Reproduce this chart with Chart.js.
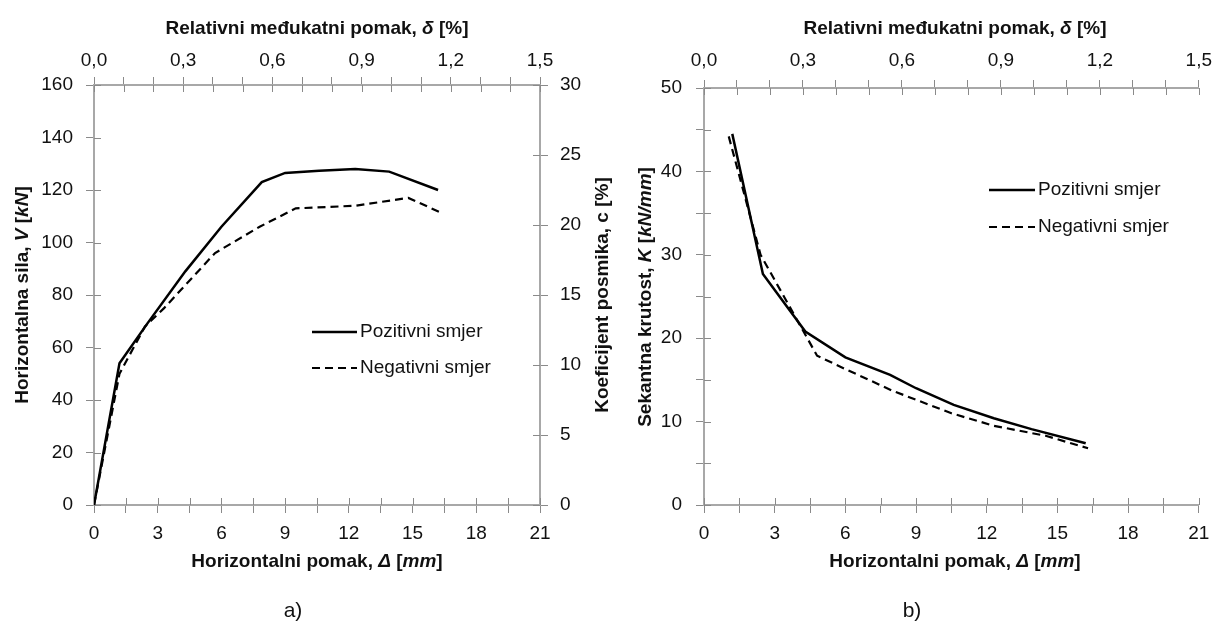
<!DOCTYPE html>
<html>
<head>
<meta charset="utf-8">
<script src="https://cdn.jsdelivr.net/npm/chart.js@4.4.1/dist/chart.umd.min.js"></script>
<style>
  body { margin: 0; background: #fff; }
  #wrap { position: relative; width: 1220px; height: 623px; }
  canvas { position: absolute; top: 0; }
  #grafA { left: 0; }
  #grafB { left: 625px; }
</style>
</head>
<body>
<div id="wrap">
  <canvas id="grafA" width="625" height="623"></canvas>
  <canvas id="grafB" width="595" height="623"></canvas>
</div>
<script>
// a) horizontalna sila - pomak
const pomakPoz = [0, 1.2, 2.5, 4.3, 6.0, 7.9, 9.0, 10.6, 12.3, 13.9, 16.2];
const silaPoz  = [0, 54, 69, 89, 106, 123, 126.5, 127.3, 128, 127, 120];
const pomakNeg = [0, 1.2, 2.4, 3.3, 5.7, 7.8, 9.5, 12.3, 14.8, 16.3];
const silaNeg  = [0, 50, 68, 75, 96, 106, 113, 114, 117, 111.5];

// b) sekantna krutost - pomak
const krutPomakPoz = [1.2, 2.5, 4.3, 6.0, 7.9, 9.0, 10.6, 12.3, 13.9, 16.2];
const krutPoz      = [44.5, 27.7, 20.8, 17.7, 15.6, 14.0, 12.0, 10.4, 9.1, 7.4];
const krutPomakNeg = [1.05, 2.4, 4.8, 6.0, 8.0, 10.5, 12.3, 14.5, 16.3];
const krutNeg      = [44.2, 30.0, 17.9, 16.3, 13.7, 11.0, 9.5, 8.3, 6.8];

const serije = ['Pozitivni smjer', 'Negativni smjer'];

// osi
const pomakMax = 21, pomakKorak = 1.5;
const driftMax = 1.5, driftKorak = 0.1;
const silaMax = 160, silaKorak = 20;
const koefMax = 30, koefKorak = 5;
const krutMax = 50, krutKorak = 5;

const FONT = "'Liberation Sans', Arial, sans-serif";
const VEL = 19;
const TXT = '#111';
const LINIJA = '#a8a8a8';
const CRTICA = '#8a8a8a';

const tocke = (xs, ys) => xs.map((x, i) => ({ x: x, y: ys[i] }));
const zarez = (v, d) => v.toFixed(d).replace('.', ',');

// unutarnji dio crtica na osima (crtice prelaze preko osi)
const unutarnjeCrtice = {
  id: 'unutarnjeCrtice',
  beforeDatasetsDraw(chart) {
    const ctx = chart.ctx;
    ctx.save();
    ctx.strokeStyle = CRTICA;
    ctx.lineWidth = 1;
    Object.values(chart.scales).forEach((s) => {
      const len = 7;
      s.ticks.forEach((t, i) => {
        const p = Math.round(s.getPixelForTick(i)) + 0.5;
        ctx.beginPath();
        if (s.position === 'left') { ctx.moveTo(s.right, p); ctx.lineTo(s.right + len, p); }
        else if (s.position === 'right') { ctx.moveTo(s.left, p); ctx.lineTo(s.left - len, p); }
        else if (s.position === 'top') { ctx.moveTo(p, s.bottom); ctx.lineTo(p, s.bottom + len); }
        else { ctx.moveTo(p, s.top); ctx.lineTo(p, s.top - len); }
        ctx.stroke();
      });
    });
    ctx.restore();
  }
};

// naslovi osi s miješanim kurzivom
function crtajDijelove(ctx, dijelovi, x, y, rot) {
  const fontZa = (st) => (st.includes('i') ? 'italic ' : '') + (st.includes('b') ? 'bold ' : '') + VEL + 'px ' + FONT;
  let ukupno = 0;
  dijelovi.forEach(([t, st]) => { ctx.font = fontZa(st); ukupno += ctx.measureText(t).width; });
  ctx.save();
  ctx.translate(x, y);
  if (rot) ctx.rotate(-Math.PI / 2);
  ctx.textBaseline = 'middle';
  ctx.textAlign = 'left';
  ctx.fillStyle = TXT;
  let pos = -ukupno / 2;
  dijelovi.forEach(([t, st]) => {
    ctx.font = fontZa(st);
    ctx.fillText(t, pos, 0);
    pos += ctx.measureText(t).width;
  });
  ctx.restore();
}

const nasloviOsi = {
  id: 'nasloviOsi',
  afterDraw(chart, args, opts) {
    const ctx = chart.ctx;
    (opts.stavke || []).forEach((n) => crtajDijelove(ctx, n.dijelovi, n.x, n.y, n.rot));
    if (opts.oznaka) {
      ctx.save();
      ctx.font = '21px ' + FONT;
      ctx.fillStyle = TXT;
      ctx.textAlign = 'center';
      ctx.textBaseline = 'middle';
      ctx.fillText(opts.oznaka.t, opts.oznaka.x, opts.oznaka.y);
      ctx.restore();
    }
  }
};

// legenda unutar grafa
const legendaUnutra = {
  id: 'legendaUnutra',
  afterDraw(chart, args, opts) {
    const ctx = chart.ctx;
    ctx.save();
    chart.data.datasets.forEach((ds, i) => {
      const y = opts.y + i * opts.razmak;
      ctx.strokeStyle = ds.borderColor;
      ctx.lineWidth = ds.borderWidth;
      ctx.setLineDash(ds.borderDash || []);
      ctx.beginPath();
      ctx.moveTo(opts.x, y);
      ctx.lineTo(opts.x + opts.duljina, y);
      ctx.stroke();
      ctx.setLineDash([]);
      ctx.font = VEL + 'px ' + FONT;
      ctx.fillStyle = TXT;
      ctx.textBaseline = 'middle';
      ctx.fillText(ds.label, opts.x + opts.duljina + 3, y);
    });
    ctx.restore();
  }
};

function os(pozicija, min, max, korak, oznaka, padding, fit) {
  return {
    type: 'linear',
    position: pozicija,
    min: min,
    max: max,
    ticks: {
      stepSize: korak,
      autoSkip: false,
      maxRotation: 0,
      padding: padding,
      color: TXT,
      font: { family: FONT, size: VEL },
      callback: oznaka
    },
    grid: { drawOnChartArea: false, drawTicks: true, tickLength: 8, color: CRTICA, lineWidth: 1 },
    border: { display: true, color: LINIJA, width: 2 },
    afterFit: fit
  };
}

const oznakaPomak = (v) => (Math.round(v / pomakKorak) % 2 === 0 ? String(Math.round(v)) : '');
const oznakaDrift = (v) => (Math.round(v * 10) % 3 === 0 ? zarez(v, 1) : '');

const naslovGore = [['Relativni međukatni pomak, ', 'b'], ['δ', 'bi'], [' [%]', 'b']];
const naslovDolje = [['Horizontalni pomak, ', 'b'], ['Δ', 'bi'], [' [', 'b'], ['mm', 'bi'], [']', 'b']];

function skupovi(xp, yp, xn, yn) {
  return [
    { label: serije[0], data: tocke(xp, yp), borderColor: '#000', borderWidth: 2.5, pointRadius: 0, tension: 0, fill: false },
    { label: serije[1], data: tocke(xn, yn), borderColor: '#000', borderWidth: 2.2, borderDash: [8, 5], pointRadius: 0, tension: 0, fill: false }
  ];
}

new Chart(document.getElementById('grafA'), {
  type: 'line',
  data: { datasets: skupovi(pomakPoz, silaPoz, pomakNeg, silaNeg) },
  options: {
    responsive: false,
    animation: false,
    devicePixelRatio: 1,
    layout: { padding: 0 },
    plugins: {
      legend: { display: false },
      tooltip: { enabled: false },
      legendaUnutra: { x: 312, y: 332, razmak: 36, duljina: 45 },
      nasloviOsi: {
        stavke: [
          { dijelovi: naslovGore, x: 317, y: 29 },
          { dijelovi: naslovDolje, x: 317, y: 562 },
          { dijelovi: [['Horizontalna sila, ', 'b'], ['V', 'bi'], [' [', 'b'], ['kN', 'bi'], [']', 'b']], x: 23, y: 295, rot: true },
          { dijelovi: [['Koeficijent posmika, c [%]', 'b']], x: 603, y: 295, rot: true }
        ],
        oznaka: { t: 'a)', x: 293, y: 611 }
      }
    },
    scales: {
      x: os('bottom', 0, pomakMax, pomakKorak, oznakaPomak, 9, (s) => { s.height = 118; }),
      x2: os('top', 0, driftMax, driftKorak, oznakaDrift, 5, (s) => { s.height = 85; }),
      y: os('left', 0, silaMax, silaKorak, (v) => String(v), 13, (s) => { s.width = 94; }),
      y2: os('right', 0, koefMax, koefKorak, (v) => String(v), 12, (s) => { s.width = 85; })
    }
  },
  plugins: [unutarnjeCrtice, nasloviOsi, legendaUnutra]
});

new Chart(document.getElementById('grafB'), {
  type: 'line',
  data: { datasets: skupovi(krutPomakPoz, krutPoz, krutPomakNeg, krutNeg) },
  options: {
    responsive: false,
    animation: false,
    devicePixelRatio: 1,
    layout: { padding: { right: 14 } },
    plugins: {
      legend: { display: false },
      tooltip: { enabled: false },
      legendaUnutra: { x: 364, y: 190, razmak: 37, duljina: 46 },
      nasloviOsi: {
        stavke: [
          { dijelovi: naslovGore, x: 330, y: 29 },
          { dijelovi: naslovDolje, x: 330, y: 562 },
          { dijelovi: [['Sekantna krutost, ', 'b'], ['K', 'bi'], [' [', 'b'], ['kN/mm', 'bi'], [']', 'b']], x: 21, y: 297, rot: true }
        ],
        oznaka: { t: 'b)', x: 287, y: 611 }
      }
    },
    scales: {
      x: os('bottom', 0, pomakMax, pomakKorak, oznakaPomak, 9, (s) => { s.height = 118; }),
      x2: os('top', 0, driftMax, driftKorak, oznakaDrift, 8, (s) => { s.height = 88; }),
      y: os('left', 0, krutMax, krutKorak, (v) => (v % 10 === 0 ? String(v) : ''), 14, (s) => { s.width = 79; })
    }
  },
  plugins: [unutarnjeCrtice, nasloviOsi, legendaUnutra]
});
</script>
</body>
</html>
